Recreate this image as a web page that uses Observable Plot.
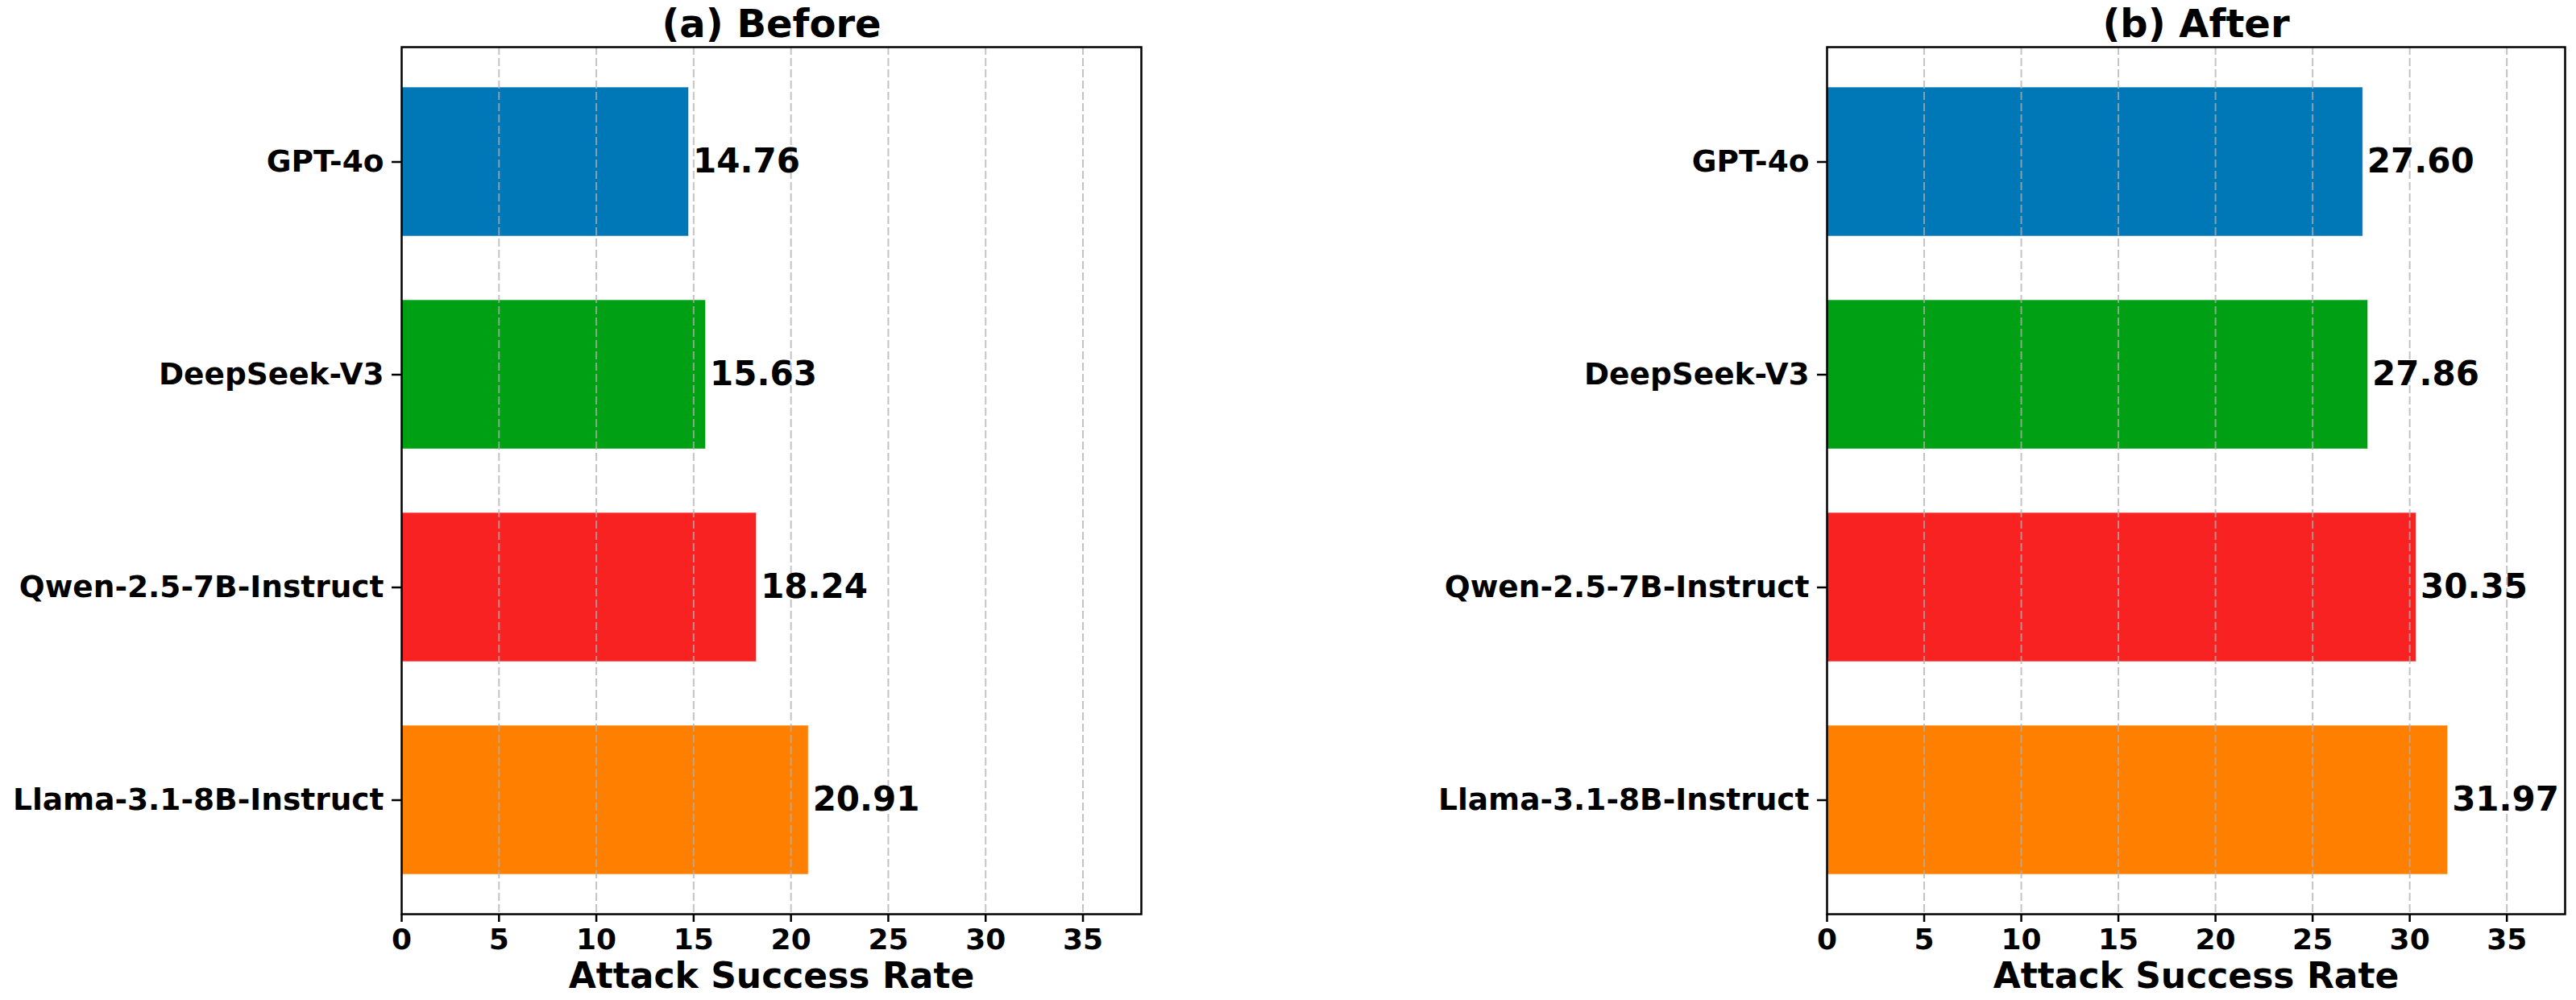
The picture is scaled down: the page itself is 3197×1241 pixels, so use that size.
<!DOCTYPE html>
<html>
<head>
<meta charset="utf-8">
<script src="https://cdn.jsdelivr.net/npm/d3@7"></script>
<script src="https://cdn.jsdelivr.net/npm/@observablehq/plot@0.6"></script>
<style>
  html, body { margin: 0; padding: 0; background: #fff; }
  #wrap { display: flex; width: 3197px; height: 1241px; }
  #wrap svg { display: block; }
</style>
</head>
<body>
<div id="wrap"></div>
<script>
// ---- data ----
const models = ["GPT-4o", "DeepSeek-V3", "Qwen-2.5-7B-Instruct", "Llama-3.1-8B-Instruct"];
const beforeValues = [14.76, 15.63, 18.24, 20.91];
const afterValues = [27.60, 27.86, 30.35, 31.97];
const xTicks = [0, 5, 10, 15, 20, 25, 30, 35];
const titles = ["(a) Before", "(b) After"];
const xLabel = "Attack Success Rate";
const palette = ["#0077b6", "#00a014", "#f92222", "#ff7f00"];

function panel(values, title, width, marginLeft, marginRight) {
  const data = models.map((m, i) => ({model: m, value: values[i]}));
  return Plot.plot({
    width,
    height: 1241,
    marginTop: 58,
    marginBottom: 107,
    marginLeft,
    marginRight,
    style: {fontFamily: "DejaVu Sans", fontWeight: "bold", fontSize: "36px", color: "black", background: "white"},
    x: {domain: [0, 38], ticks: xTicks, label: null},
    y: {domain: models, paddingInner: 0.3, paddingOuter: 0.185, label: null},
    color: {domain: models, range: palette},
    marks: [
      Plot.barX(data, {x: "value", y: "model", fill: "model", stroke: "white", strokeWidth: 1, strokeOpacity: 0.6}),
      Plot.ruleX(xTicks.slice(1), {stroke: "#b0b0b0", strokeOpacity: 0.75, strokeWidth: 2, strokeDasharray: "10,4"}),
      Plot.text(data, {x: "value", y: "model", text: d => d.value.toFixed(2), textAnchor: "start", dx: 5, fontSize: 42, fontWeight: "bold", fill: "black"}),
      Plot.axisX({ticks: xTicks, tickSize: 10, tickPadding: 8, strokeWidth: 2.5, fontSize: 36, fontWeight: "bold", label: null}),
      Plot.axisY({tickSize: 12, tickPadding: 10, strokeWidth: 2.5, fontSize: 37.5, fontWeight: "bold", label: null}),
      Plot.frame({stroke: "black", strokeWidth: 2.5}),
      Plot.text([title], {frameAnchor: "top", dy: -28, lineAnchor: "middle", fontSize: 48, fontWeight: "bold", fill: "black"}),
      Plot.text([xLabel], {frameAnchor: "bottom", dy: 77, lineAnchor: "middle", fontSize: 44, fontWeight: "bold", fill: "black"})
    ]
  });
}

const wrap = document.getElementById("wrap");
wrap.appendChild(panel(beforeValues, titles[0], 1598, 498, 182));
wrap.appendChild(panel(afterValues, titles[1], 1599, 669, 14));
</script>
</body>
</html>
